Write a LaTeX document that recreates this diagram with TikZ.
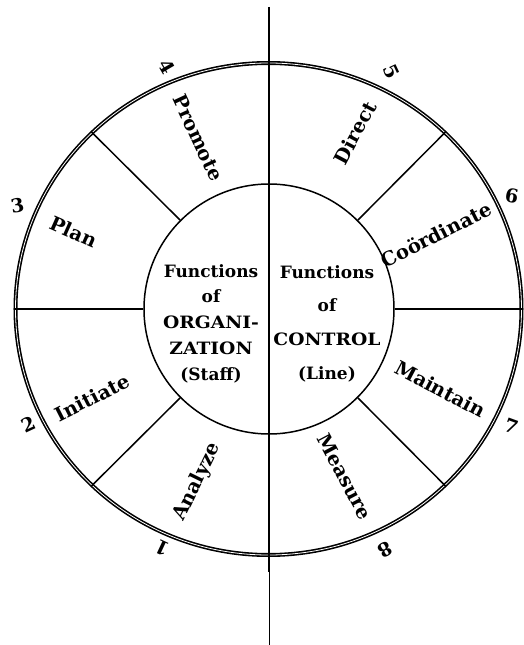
\documentclass[tikz,border=0pt]{standalone}
\usepackage{fontspec}
\setmainfont{DejaVu Serif}
\newfontfamily\widecaps[FakeStretch=1.1]{DejaVu Serif}
\usetikzlibrary{shapes.geometric}
\begin{document}
\begin{tikzpicture}[x=1pt,y=1pt,
  lbl/.style={font=\fontsize{19.5}{19.5}\selectfont\bfseries, inner sep=0pt},
  num/.style={font=\fontsize{19}{19}\selectfont\bfseries, inner sep=0pt},
  spoke/.style={line width=1.5pt},
  ctrtext/.style={align=center, inner sep=0pt}]
\useasboundingbox (-269,-336) rectangle (254,309);
\node[circle, draw, line width=1.5pt, minimum size=250pt, inner sep=0pt] (inner) at (0,0) {};
\node[ellipse, draw, line width=1.6pt, double, double distance=0.8pt, minimum width=506pt, minimum height=492pt, inner sep=0pt] (outer) at (-0.5,0) {};
\coordinate (vtop) at (0,302);
\coordinate (vmid) at (0,-263);
\coordinate (vbot) at (0,-336);
\draw[line width=1.7pt] (vtop) -- (vmid);
\draw[line width=0.8pt] (vmid) -- (vbot);
\foreach \a in {0,45,135,180,225,315} {\draw[spoke] (inner.\a) -- (outer.\a);}
% centre texts
\node[ctrtext, font=\fontsize{17}{25.8}\selectfont\bfseries] (org) at (-58,-14.5) {Functions\\of\\{\widecaps\bfseries ORGANI-}\\{\widecaps\bfseries ZATION}\\(Staff)};
\node[ctrtext, font=\fontsize{17}{33.7}\selectfont\bfseries] (ctl) at (58,-14.5) {Functions\\of\\{\widecaps\bfseries CONTROL}\\(Line)};
% sector labels
\node[lbl, rotate=-65] (promote) at (112.5:185) {Promote};
\node[lbl, rotate=62] (direct) at (64:196) {Direct};
\node[lbl, rotate=27] (coord) at (24:183) {Coördinate};
\node[lbl, rotate=-28] (maintain) at (-25:189) {Maintain};
\node[lbl, rotate=-62] (measure) at (-65.7:184) {Measure};
\node[lbl, rotate=64] (analyze) at (247.4:187) {Analyze};
\node[lbl, rotate=27] (initiate) at (206.6:198) {Initiate};
\node[lbl, rotate=-24] (plan) at (158.5:210) {Plan};
% numbers
\node[num, rotate=-60] (n4) at (112.9:263) {4};
\node[num, rotate=-65] (n5) at (62.6:267) {5};
\node[num, rotate=-10] (n6) at (25:268) {6};
\node[num, rotate=10] (n3) at (157.7:272) {3};
\node[num, rotate=25] (n2) at (205.6:267) {2};
\node[num, rotate=-20] (n7) at (-25.8:269) {7};
\node[num, rotate=155] (n1) at (245.9:262) {1};
\node[num, rotate=-150] (n8) at (-64.3:267) {8};
\end{tikzpicture}
\end{document}
